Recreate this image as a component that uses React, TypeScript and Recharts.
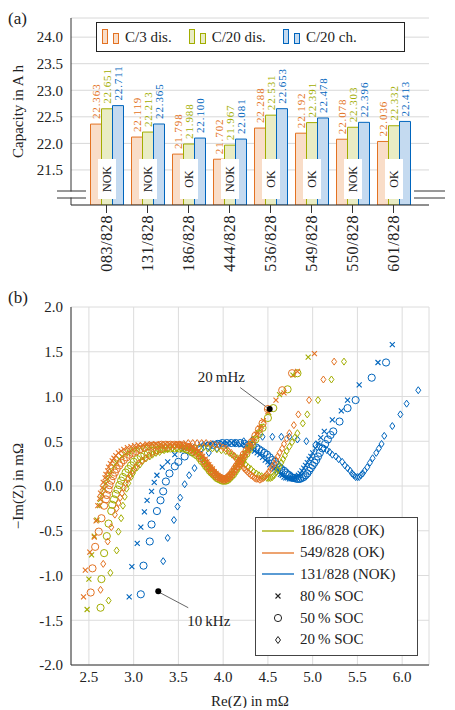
import { Bar, BarChart, CartesianGrid, Label, LabelList, Legend, ReferenceDot, ReferenceLine, Scatter, ScatterChart, XAxis, YAxis } from 'recharts'

const ORANGE = '#E37222'
const GREEN = '#A2AD00'
const BLUE = '#0065BD'
const ORANGE_FILL = '#F9DDC8'
const GREEN_FILL = '#E9ECC4'
const BLUE_FILL = '#C4DAF0'
const INK = '#222'
const FONT = 'Liberation Serif'

// (a) capacities in Ah
const cells = ['083/828', '131/828', '186/828', '444/828', '536/828', '549/828', '550/828', '601/828']
const c3Dis = [22.363, 22.119, 21.798, 21.702, 22.288, 22.192, 22.078, 22.036]
const c20Dis = [22.651, 22.213, 21.988, 21.967, 22.531, 22.391, 22.303, 22.332]
const c20Ch = [22.711, 22.365, 22.1, 22.081, 22.653, 22.478, 22.396, 22.413]
const status = ['NOK', 'NOK', 'OK', 'NOK', 'OK', 'OK', 'NOK', 'OK']
const capTicks = [21.5, 22.0, 22.5, 23.0, 23.5, 24.0]
const capLegend = [
  { name: 'C/3 dis.', color: ORANGE, fill: ORANGE_FILL },
  { name: 'C/20 dis.', color: GREEN, fill: GREEN_FILL },
  { name: 'C/20 ch.', color: BLUE, fill: BLUE_FILL },
]

// (b) Nyquist, [Re(Z), -Im(Z)] in mOhm
const green80 = [[2.48, -1.38], [2.5, -1.04], [2.53, -0.77], [2.56, -0.56], [2.59, -0.38], [2.62, -0.22], [2.63, -0.15], [2.65, -0.09], [2.67, -0.03], [2.69, 0.03], [2.71, 0.08], [2.73, 0.13], [2.75, 0.17], [2.78, 0.22], [2.81, 0.26], [2.84, 0.3], [2.87, 0.33], [2.91, 0.36], [2.95, 0.38], [2.99, 0.4], [3.03, 0.41],
  [3.08, 0.43], [3.13, 0.44], [3.18, 0.44], [3.23, 0.45], [3.28, 0.45], [3.33, 0.45], [3.38, 0.45], [3.43, 0.45], [3.48, 0.45], [3.53, 0.44], [3.57, 0.44],
  [3.61, 0.42], [3.64, 0.41], [3.67, 0.39], [3.7, 0.37], [3.73, 0.35], [3.75, 0.32], [3.78, 0.29], [3.8, 0.26], [3.82, 0.24], [3.84, 0.21], [3.86, 0.19], [3.88, 0.17], [3.9, 0.15], [3.92, 0.13], [3.94, 0.11], [3.96, 0.1], [3.98, 0.09], [4.0, 0.08], [4.02, 0.08], [4.04, 0.08], [4.06, 0.1], [4.08, 0.12], [4.1, 0.14], [4.12, 0.17], [4.14, 0.2], [4.16, 0.23], [4.18, 0.26], [4.2, 0.29], [4.22, 0.32], [4.25, 0.36], [4.28, 0.41], [4.31, 0.46], [4.35, 0.53], [4.39, 0.6], [4.43, 0.67],
  [4.51, 0.82], [4.63, 1.02], [4.78, 1.24], [4.95, 1.44]]
const green50 = [[2.63, -1.36], [2.64, -1.04], [2.67, -0.75], [2.7, -0.56], [2.72, -0.42], [2.75, -0.28], [2.76, -0.21], [2.78, -0.15], [2.8, -0.09], [2.82, -0.04], [2.84, 0.01], [2.86, 0.06], [2.88, 0.1], [2.91, 0.15], [2.94, 0.19], [2.97, 0.23], [3.0, 0.27], [3.04, 0.3], [3.08, 0.33], [3.12, 0.35], [3.16, 0.37],
  [3.21, 0.39], [3.26, 0.4], [3.31, 0.41], [3.36, 0.42], [3.41, 0.42], [3.46, 0.42], [3.51, 0.42], [3.55, 0.42], [3.59, 0.41],
  [3.62, 0.4], [3.65, 0.38], [3.68, 0.36], [3.71, 0.34], [3.74, 0.31], [3.76, 0.28], [3.79, 0.25], [3.81, 0.22], [3.83, 0.2], [3.85, 0.17], [3.87, 0.15], [3.89, 0.13], [3.91, 0.11], [3.93, 0.09], [3.95, 0.08], [3.97, 0.07], [3.99, 0.06], [4.01, 0.06], [4.03, 0.06], [4.05, 0.07], [4.07, 0.09], [4.09, 0.11], [4.11, 0.13], [4.13, 0.16], [4.15, 0.19], [4.17, 0.22], [4.19, 0.25], [4.21, 0.28], [4.23, 0.32], [4.26, 0.36], [4.29, 0.41], [4.32, 0.46], [4.36, 0.52], [4.4, 0.58], [4.44, 0.65],
  [4.5, 0.76], [4.56, 0.87], [4.72, 1.08], [4.83, 1.26]]
const green20 = [[2.72, -1.28], [2.74, -0.97], [2.81, -0.72], [2.83, -0.51], [2.86, -0.36], [2.88, -0.22], [2.9, -0.12], [2.92, -0.03], [2.94, 0.03], [2.97, 0.1], [2.99, 0.14], [3.01, 0.18], [3.04, 0.21], [3.07, 0.24], [3.1, 0.28], [3.14, 0.31], [3.18, 0.33], [3.21, 0.35], [3.25, 0.37], [3.29, 0.38], [3.34, 0.4],
  [3.38, 0.41], [3.43, 0.42], [3.48, 0.42], [3.53, 0.43], [3.58, 0.43], [3.63, 0.43], [3.68, 0.43], [3.73, 0.43], [3.78, 0.43], [3.83, 0.42], [3.88, 0.42], [3.93, 0.41], [3.98, 0.4], [4.03, 0.39],
  [4.07, 0.37], [4.1, 0.35], [4.13, 0.33], [4.16, 0.31], [4.19, 0.29], [4.22, 0.26], [4.25, 0.24], [4.28, 0.21], [4.31, 0.19], [4.34, 0.16], [4.37, 0.14], [4.4, 0.12], [4.43, 0.11], [4.46, 0.1], [4.49, 0.09], [4.51, 0.09], [4.53, 0.09], [4.55, 0.1], [4.57, 0.12], [4.59, 0.15], [4.61, 0.18], [4.63, 0.22], [4.65, 0.26], [4.67, 0.3], [4.69, 0.34], [4.71, 0.39], [4.74, 0.44], [4.77, 0.49], [4.8, 0.54], [4.83, 0.59],
  [4.89, 0.7], [4.94, 0.8], [5.06, 0.96], [5.21, 1.19], [5.35, 1.39]]
const orange80 = [[2.44, -1.24], [2.46, -0.94], [2.51, -0.74], [2.56, -0.57], [2.58, -0.39], [2.6, -0.22], [2.62, -0.14], [2.63, -0.08], [2.65, -0.02], [2.66, 0.04], [2.68, 0.09], [2.69, 0.13], [2.71, 0.17], [2.72, 0.21], [2.74, 0.25], [2.76, 0.28], [2.78, 0.31], [2.8, 0.34], [2.83, 0.37], [2.86, 0.39], [2.89, 0.41], [2.93, 0.43],
  [2.97, 0.44], [3.01, 0.45], [3.05, 0.46], [3.1, 0.46], [3.15, 0.47], [3.2, 0.47], [3.25, 0.47], [3.3, 0.47], [3.35, 0.47], [3.4, 0.47], [3.45, 0.47], [3.5, 0.47], [3.55, 0.46], [3.6, 0.45],
  [3.63, 0.45], [3.66, 0.43], [3.69, 0.41], [3.72, 0.39], [3.75, 0.36], [3.77, 0.33], [3.8, 0.3], [3.82, 0.27], [3.84, 0.24], [3.86, 0.21], [3.88, 0.19], [3.9, 0.16], [3.92, 0.14], [3.94, 0.12], [3.96, 0.1], [3.98, 0.09], [4.0, 0.08], [4.02, 0.08], [4.04, 0.08], [4.06, 0.1], [4.08, 0.12], [4.1, 0.14], [4.12, 0.17], [4.14, 0.2], [4.16, 0.23], [4.18, 0.26], [4.2, 0.29], [4.22, 0.33], [4.24, 0.36], [4.27, 0.4], [4.3, 0.45], [4.33, 0.51], [4.37, 0.58], [4.41, 0.65], [4.45, 0.73],
  [4.5, 0.83], [4.59, 0.96], [4.68, 1.04], [4.83, 1.28], [5.02, 1.48]]
const orange50 = [[2.52, -1.19], [2.54, -0.92], [2.57, -0.68], [2.61, -0.51], [2.64, -0.36], [2.67, -0.22], [2.69, -0.15], [2.7, -0.1], [2.72, -0.04], [2.73, 0.01], [2.75, 0.06], [2.77, 0.11], [2.79, 0.15], [2.81, 0.19], [2.84, 0.23], [2.86, 0.26], [2.89, 0.29], [2.92, 0.32], [2.95, 0.35], [2.99, 0.37], [3.03, 0.39], [3.07, 0.41],
  [3.12, 0.43], [3.16, 0.44], [3.21, 0.45], [3.26, 0.45], [3.31, 0.46], [3.36, 0.46], [3.41, 0.46], [3.46, 0.46], [3.51, 0.46], [3.55, 0.45], [3.59, 0.44],
  [3.62, 0.43], [3.65, 0.41], [3.68, 0.39], [3.71, 0.37], [3.74, 0.34], [3.76, 0.31], [3.79, 0.28], [3.81, 0.25], [3.83, 0.22], [3.85, 0.2], [3.87, 0.17], [3.89, 0.15], [3.91, 0.13], [3.93, 0.11], [3.95, 0.1], [3.97, 0.09], [3.99, 0.08], [4.01, 0.07], [4.03, 0.08], [4.05, 0.09], [4.07, 0.11], [4.09, 0.13], [4.11, 0.16], [4.13, 0.19], [4.15, 0.22], [4.17, 0.25], [4.19, 0.28], [4.21, 0.31], [4.23, 0.35], [4.26, 0.39], [4.29, 0.44], [4.32, 0.49], [4.36, 0.56], [4.4, 0.63], [4.44, 0.7],
  [4.5, 0.86], [4.66, 1.07], [4.77, 1.26]]
const orange20 = [[2.63, -1.16], [2.66, -0.87], [2.71, -0.62], [2.75, -0.46], [2.79, -0.32], [2.81, -0.25], [2.83, -0.19], [2.85, -0.13], [2.87, -0.08], [2.89, -0.02], [2.91, 0.03], [2.94, 0.08], [2.96, 0.12], [2.99, 0.17], [3.02, 0.21], [3.05, 0.25], [3.09, 0.28], [3.13, 0.31], [3.17, 0.34], [3.21, 0.37], [3.26, 0.39], [3.31, 0.41], [3.36, 0.43],
  [3.41, 0.44], [3.46, 0.45], [3.51, 0.46], [3.56, 0.47], [3.61, 0.48], [3.66, 0.48], [3.71, 0.48], [3.76, 0.48], [3.81, 0.48], [3.86, 0.47], [3.91, 0.46], [3.96, 0.45], [4.0, 0.43],
  [4.03, 0.42], [4.06, 0.39], [4.09, 0.37], [4.12, 0.34], [4.14, 0.31], [4.17, 0.28], [4.19, 0.25], [4.21, 0.23], [4.23, 0.2], [4.25, 0.18], [4.27, 0.16], [4.29, 0.14], [4.31, 0.12], [4.33, 0.11], [4.35, 0.09], [4.37, 0.08], [4.39, 0.08], [4.41, 0.07], [4.43, 0.08], [4.45, 0.09], [4.47, 0.11], [4.49, 0.13], [4.51, 0.16], [4.53, 0.19], [4.55, 0.22], [4.57, 0.25], [4.59, 0.29], [4.61, 0.33], [4.63, 0.37], [4.66, 0.42], [4.68, 0.47], [4.71, 0.53], [4.74, 0.59], [4.79, 0.68],
  [4.84, 0.8], [4.96, 0.96], [5.12, 1.19], [5.24, 1.39]]
const blue80 = [[2.95, -1.24], [2.98, -0.9], [3.04, -0.64], [3.08, -0.46], [3.12, -0.29], [3.15, -0.16], [3.2, -0.06], [3.23, 0.04], [3.26, 0.12], [3.32, 0.21], [3.38, 0.27], [3.46, 0.35], [3.55, 0.4], [3.65, 0.44],
  [3.75, 0.46], [3.8, 0.47], [3.85, 0.47], [3.9, 0.48], [3.95, 0.48], [4.0, 0.48], [4.05, 0.48], [4.1, 0.48], [4.15, 0.47], [4.2, 0.46], [4.25, 0.45],
  [4.29, 0.43], [4.32, 0.41], [4.35, 0.39], [4.38, 0.37], [4.41, 0.35], [4.44, 0.32], [4.47, 0.29], [4.5, 0.27], [4.52, 0.24], [4.55, 0.21], [4.57, 0.19], [4.6, 0.17], [4.62, 0.15], [4.64, 0.13], [4.66, 0.12], [4.68, 0.1], [4.7, 0.09], [4.72, 0.09], [4.74, 0.08], [4.76, 0.08], [4.78, 0.08], [4.8, 0.09], [4.82, 0.1], [4.84, 0.12], [4.86, 0.14], [4.88, 0.17], [4.9, 0.2], [4.92, 0.23], [4.94, 0.26], [4.96, 0.3], [4.98, 0.33], [5.0, 0.37], [5.03, 0.42], [5.06, 0.48], [5.09, 0.54], [5.13, 0.61],
  [5.22, 0.74], [5.32, 0.84], [5.39, 0.96], [5.52, 1.13], [5.73, 1.38], [5.89, 1.58]]
const blue50 = [[3.08, -1.21], [3.11, -0.89], [3.18, -0.62], [3.2, -0.43], [3.26, -0.28], [3.3, -0.16], [3.33, -0.06], [3.36, 0.05], [3.4, 0.14], [3.46, 0.22], [3.5, 0.27], [3.57, 0.33], [3.65, 0.38], [3.74, 0.42],
  [3.84, 0.45], [3.89, 0.46], [3.94, 0.47], [3.99, 0.48], [4.04, 0.48], [4.09, 0.48], [4.14, 0.48], [4.19, 0.48], [4.24, 0.47], [4.29, 0.46], [4.33, 0.45],
  [4.37, 0.43], [4.4, 0.41], [4.43, 0.39], [4.46, 0.37], [4.49, 0.35], [4.52, 0.32], [4.55, 0.29], [4.58, 0.27], [4.6, 0.24], [4.63, 0.21], [4.65, 0.19], [4.68, 0.17], [4.7, 0.15], [4.72, 0.13], [4.74, 0.12], [4.76, 0.1], [4.78, 0.09], [4.8, 0.09], [4.82, 0.08], [4.84, 0.08], [4.86, 0.08], [4.88, 0.09], [4.9, 0.1], [4.92, 0.12], [4.94, 0.14], [4.96, 0.17], [4.98, 0.2], [5.0, 0.23], [5.02, 0.26], [5.04, 0.29], [5.06, 0.33], [5.08, 0.37], [5.11, 0.42], [5.14, 0.47], [5.17, 0.52], [5.2, 0.57],
  [5.23, 0.61], [5.3, 0.72], [5.39, 0.87], [5.48, 0.96], [5.66, 1.21], [5.82, 1.38]]
const blue20 = [[3.33, -0.84], [3.38, -0.58], [3.45, -0.38], [3.49, -0.23], [3.52, -0.13], [3.57, 0.02], [3.62, 0.12], [3.68, 0.2], [3.77, 0.3], [3.84, 0.37], [3.93, 0.42], [4.03, 0.46], [4.13, 0.48], [4.23, 0.5], [4.33, 0.52], [4.44, 0.55], [4.55, 0.55], [4.65, 0.55], [4.74, 0.55], [4.83, 0.52], [4.93, 0.5], [5.03, 0.46],
  [5.08, 0.44], [5.12, 0.42], [5.16, 0.4], [5.19, 0.38], [5.22, 0.35], [5.26, 0.33], [5.29, 0.3], [5.33, 0.27], [5.36, 0.23], [5.39, 0.2], [5.42, 0.17], [5.44, 0.14], [5.46, 0.12], [5.48, 0.1], [5.5, 0.1], [5.52, 0.1], [5.54, 0.12], [5.56, 0.14], [5.58, 0.17], [5.61, 0.21], [5.64, 0.26], [5.67, 0.31], [5.71, 0.37], [5.74, 0.42], [5.77, 0.47], [5.8, 0.56],
  [5.89, 0.67], [5.98, 0.8], [6.05, 0.92], [6.18, 1.07]]
const reTicks = [2.5, 3.0, 3.5, 4.0, 4.5, 5.0, 5.5, 6.0]
const imTicks = [-2.0, -1.5, -1.0, -0.5, 0.0, 0.5, 1.0, 1.5, 2.0]

const cellLegend = [
  { name: '186/828 (OK)', color: GREEN },
  { name: '549/828 (OK)', color: ORANGE },
  { name: '131/828 (NOK)', color: BLUE },
]
const socLegend = [
  { name: '80\u2009% SOC', mark: 'x' },
  { name: '50\u2009% SOC', mark: 'o' },
  { name: '20\u2009% SOC', mark: 'd' },
]

const nyquist = [
  { key: 'b20', data: blue20, color: BLUE, mark: 'd' },
  { key: 'b50', data: blue50, color: BLUE, mark: 'o' },
  { key: 'b80', data: blue80, color: BLUE, mark: 'x' },
  { key: 'g20', data: green20, color: GREEN, mark: 'd' },
  { key: 'g50', data: green50, color: GREEN, mark: 'o' },
  { key: 'g80', data: green80, color: GREEN, mark: 'x' },
  { key: 'o20', data: orange20, color: ORANGE, mark: 'd' },
  { key: 'o50', data: orange50, color: ORANGE, mark: 'o' },
  { key: 'o80', data: orange80, color: ORANGE, mark: 'x' },
]

const barData = cells.map((cell, i) => ({ cell, c3: c3Dis[i], c20d: c20Dis[i], c20c: c20Ch[i], status: status[i] }))
const toPoints = (pts: number[][]) => pts.map(([x, y]) => ({ x, y }))

const Mark = ({ cx, cy, kind, color }: { cx: number; cy: number; kind: string; color: string }) => {
  if (kind === 'x') {
    const s = 2.5
    return <path d={`M${cx - s} ${cy - s}L${cx + s} ${cy + s}M${cx - s} ${cy + s}L${cx + s} ${cy - s}`} stroke={color} strokeWidth={1.1} fill="none" />
  }
  if (kind === 'o') return <circle cx={cx} cy={cy} r={3.6} stroke={color} strokeWidth={1} fill="none" />
  return <path d={`M${cx} ${cy - 3.5}L${cx + 2.5} ${cy}L${cx} ${cy + 3.5}L${cx - 2.5} ${cy}Z`} stroke={color} strokeWidth={1} fill="none" />
}

const valueLabel = (color: string) => (p: any) => {
  const x = p.x + p.width / 2
  const y = p.y - 5
  return (
    <text x={x} y={y} transform={`rotate(-90 ${x} ${y})`} fill={color} fontSize={11} letterSpacing={0.9}
      fontFamily={FONT} textAnchor="start" dominantBaseline="central">
      {Number(p.value).toFixed(3)}
    </text>
  )
}

const statusLabel = (p: any) => {
  const x = p.x + p.width / 2
  const cy = p.y + p.height - 26
  return (
    <g>
      <rect x={x - 9} y={cy - 20} width={18} height={40} fill="#fff" />
      <text x={x} y={cy} transform={`rotate(-90 ${x} ${cy})`} fontSize={12} fontFamily={FONT} fill={INK}
        textAnchor="middle" dominantBaseline="central">
        {p.value}
      </text>
    </g>
  )
}

const CellTick = (p: any) => (
  <text x={p.x} y={p.y} transform={`rotate(-90 ${p.x} ${p.y})`} fontSize={16} letterSpacing={0.6} fontFamily={FONT}
    fill={INK} textAnchor="end" dominantBaseline="central">
    {p.payload.value}
  </text>
)

const CapLegend = () => (
  <div style={{ display: 'flex', alignItems: 'center', height: 28, border: '1px solid #222', background: '#fff', fontFamily: FONT, fontSize: 15, color: INK }}>
    {capLegend.map((e) => (
      <div key={e.name} style={{ display: 'flex', alignItems: 'center', marginLeft: 5, marginRight: 12 }}>
        <svg width={20} height={16}>
          <rect x={0.5} y={0.5} width={5} height={14} fill={e.fill} stroke={e.color} />
          <rect x={11.5} y={4.5} width={5} height={10} fill={e.fill} stroke={e.color} />
        </svg>
        <span style={{ marginLeft: 3 }}>{e.name}</span>
      </div>
    ))}
  </div>
)

const NyquistLegend = () => (
  <div style={{ width: 161, border: '1px solid #444', background: '#fff', fontFamily: FONT, fontSize: 15, color: INK, padding: '2px 0 4px' }}>
    {cellLegend.map((e) => (
      <div key={e.name} style={{ display: 'flex', alignItems: 'center', height: 21.8 }}>
        <svg width={44} height={10}><line x1={6} y1={5} x2={38} y2={5} stroke={e.color} strokeWidth={1.3} /></svg>
        <span>{e.name}</span>
      </div>
    ))}
    {socLegend.map((e) => (
      <div key={e.name} style={{ display: 'flex', alignItems: 'center', height: 21.8 }}>
        <svg width={44} height={10}><Mark cx={22} cy={5} kind={e.mark} color={INK} /></svg>
        <span>{e.name}</span>
      </div>
    ))}
  </div>
)

const panelTag = { position: 'absolute' as const, left: 0, fontFamily: FONT, fontSize: 17, color: INK }

export default function App() {
  return (
    <div style={{ position: 'relative', width: 440, height: 700, fontFamily: FONT }}>
      <div style={{ ...panelTag, top: 1 }}>(a)</div>
      <div style={{ position: 'absolute', top: 0, left: 0 }}>
        <BarChart width={440} height={280} data={barData} margin={{ top: 10, right: 19, left: 0, bottom: 0 }}
          barCategoryGap="11%" barGap={0}>
          <CartesianGrid vertical={false} stroke="#d8d8d8" />
          <XAxis dataKey="cell" height={83} padding={{ left: 15, right: 15 }} tickSize={8} tickMargin={2}
            tick={<CellTick />} interval={0} stroke="#333" />
          <XAxis xAxisId="top" dataKey="cell" orientation="top" height={0} padding={{ left: 15, right: 15 }}
            tickSize={8} tick={false} stroke="#333" />
          <YAxis width={63} type="number" domain={[20.84, 24.36]} ticks={capTicks} allowDataOverflow
            tickFormatter={(v: number) => v.toFixed(1)} tick={{ fontSize: 15, fontFamily: FONT, fill: INK }}
            tickLine={false} stroke="#333">
            <Label value="Capacity in A h" angle={-90} position="center" dx={-22}
              style={{ fontSize: 15, fontFamily: FONT, fill: INK }} />
          </YAxis>
          <YAxis yAxisId="right" orientation="right" width={0} type="number" domain={[20.84, 24.36]} ticks={capTicks}
            allowDataOverflow mirror tick={false} tickSize={6} stroke="#333" />
          <Legend layout="vertical" align="center" verticalAlign="middle" content={<CapLegend />}
            wrapperStyle={{ top: 14, left: 88, width: 309 }} />
          <Bar dataKey="c3" fill={ORANGE_FILL} stroke={ORANGE} isAnimationActive={false}>
            <LabelList dataKey="c3" content={valueLabel(ORANGE)} />
          </Bar>
          <Bar dataKey="c20d" fill={GREEN_FILL} stroke={GREEN} isAnimationActive={false}>
            <LabelList dataKey="c20d" content={valueLabel(GREEN)} />
            <LabelList dataKey="status" content={statusLabel} />
          </Bar>
          <Bar dataKey="c20c" fill={BLUE_FILL} stroke={BLUE} isAnimationActive={false}>
            <LabelList dataKey="c20c" content={valueLabel(BLUE)} />
          </Bar>
        </BarChart>
        <svg width={440} height={280} style={{ position: 'absolute', top: 0, left: 0, pointerEvents: 'none' }}>
          <rect x={49} y={183.5} width={29} height={6} fill="#fff" />
          <line x1={49} y1={183} x2={78} y2={183} stroke="#333" />
          <line x1={49} y1={190} x2={78} y2={190} stroke="#333" />
          <rect x={406} y={183.5} width={31} height={6} fill="#fff" />
          <line x1={406} y1={183} x2={437} y2={183} stroke="#333" />
          <line x1={406} y1={190} x2={437} y2={190} stroke="#333" />
        </svg>
      </div>

      <div style={{ ...panelTag, top: 280 }}>(b)</div>
      <div style={{ position: 'absolute', top: 290, left: 0 }}>
        <ScatterChart width={440} height={410} margin={{ top: 9, right: 19, left: 0, bottom: 0 }}>
          <CartesianGrid stroke="#dcdcdc" />
          <XAxis dataKey="x" type="number" domain={[2.3, 6.3]} ticks={reTicks} allowDataOverflow height={43}
            tickFormatter={(v: number) => v.toFixed(1)} tick={{ fontSize: 15, fontFamily: FONT, fill: INK }}
            tickLine={false} tickSize={4} tickMargin={2} stroke="#333">
            <Label value="Re(Z) in mΩ" position="center" dy={14} style={{ fontSize: 15, fontFamily: FONT, fill: INK }} />
          </XAxis>
          <XAxis xAxisId="top" dataKey="x" type="number" orientation="top" domain={[2.3, 6.3]} ticks={reTicks}
            allowDataOverflow height={0} mirror tick={false} tickSize={6} stroke="#333" />
          <YAxis dataKey="y" type="number" domain={[-2, 2]} ticks={imTicks} allowDataOverflow width={63}
            tickFormatter={(v: number) => v.toFixed(1)} tick={{ fontSize: 15, fontFamily: FONT, fill: INK }}
            tickLine={false} stroke="#333">
            <Label value="−Im(Z) in mΩ" angle={-90} position="center" dx={-22}
              style={{ fontSize: 15, fontFamily: FONT, fill: INK }} />
          </YAxis>
          <YAxis yAxisId="right" dataKey="y" type="number" orientation="right" domain={[-2, 2]} ticks={imTicks}
            allowDataOverflow width={0} mirror tick={false} tickSize={6} stroke="#333" />
          <Legend layout="vertical" align="center" verticalAlign="middle" content={<NyquistLegend />}
            wrapperStyle={{ top: 219, left: 247, width: 163 }} />
          {nyquist.map((s) => (
            <Scatter key={s.key} data={toPoints(s.data)} isAnimationActive={false}
              shape={(p: any) => <Mark cx={p.cx} cy={p.cy} kind={s.mark} color={s.color} />} />
          ))}
          <ReferenceLine segment={[{ x: 4.19, y: 1.1 }, { x: 4.5, y: 0.87 }]} stroke="#666" />
          <ReferenceDot x={4.52} y={0.86} r={3} fill="#000" stroke="none" />
          <ReferenceDot x={3.98} y={1.22} r={0} fill="none" stroke="none"
            label={{ value: '20\u2009mHz', position: 'center', fill: INK, fontSize: 15, fontFamily: FONT }} />
          <ReferenceLine segment={[{ x: 3.29, y: -1.19 }, { x: 3.61, y: -1.36 }]} stroke="#666" />
          <ReferenceDot x={3.275} y={-1.175} r={3} fill="#000" stroke="none" />
          <ReferenceDot x={3.84} y={-1.51} r={0} fill="none" stroke="none"
            label={{ value: '10\u2009kHz', position: 'center', fill: INK, fontSize: 15, fontFamily: FONT }} />
        </ScatterChart>
      </div>
    </div>
  )
}
